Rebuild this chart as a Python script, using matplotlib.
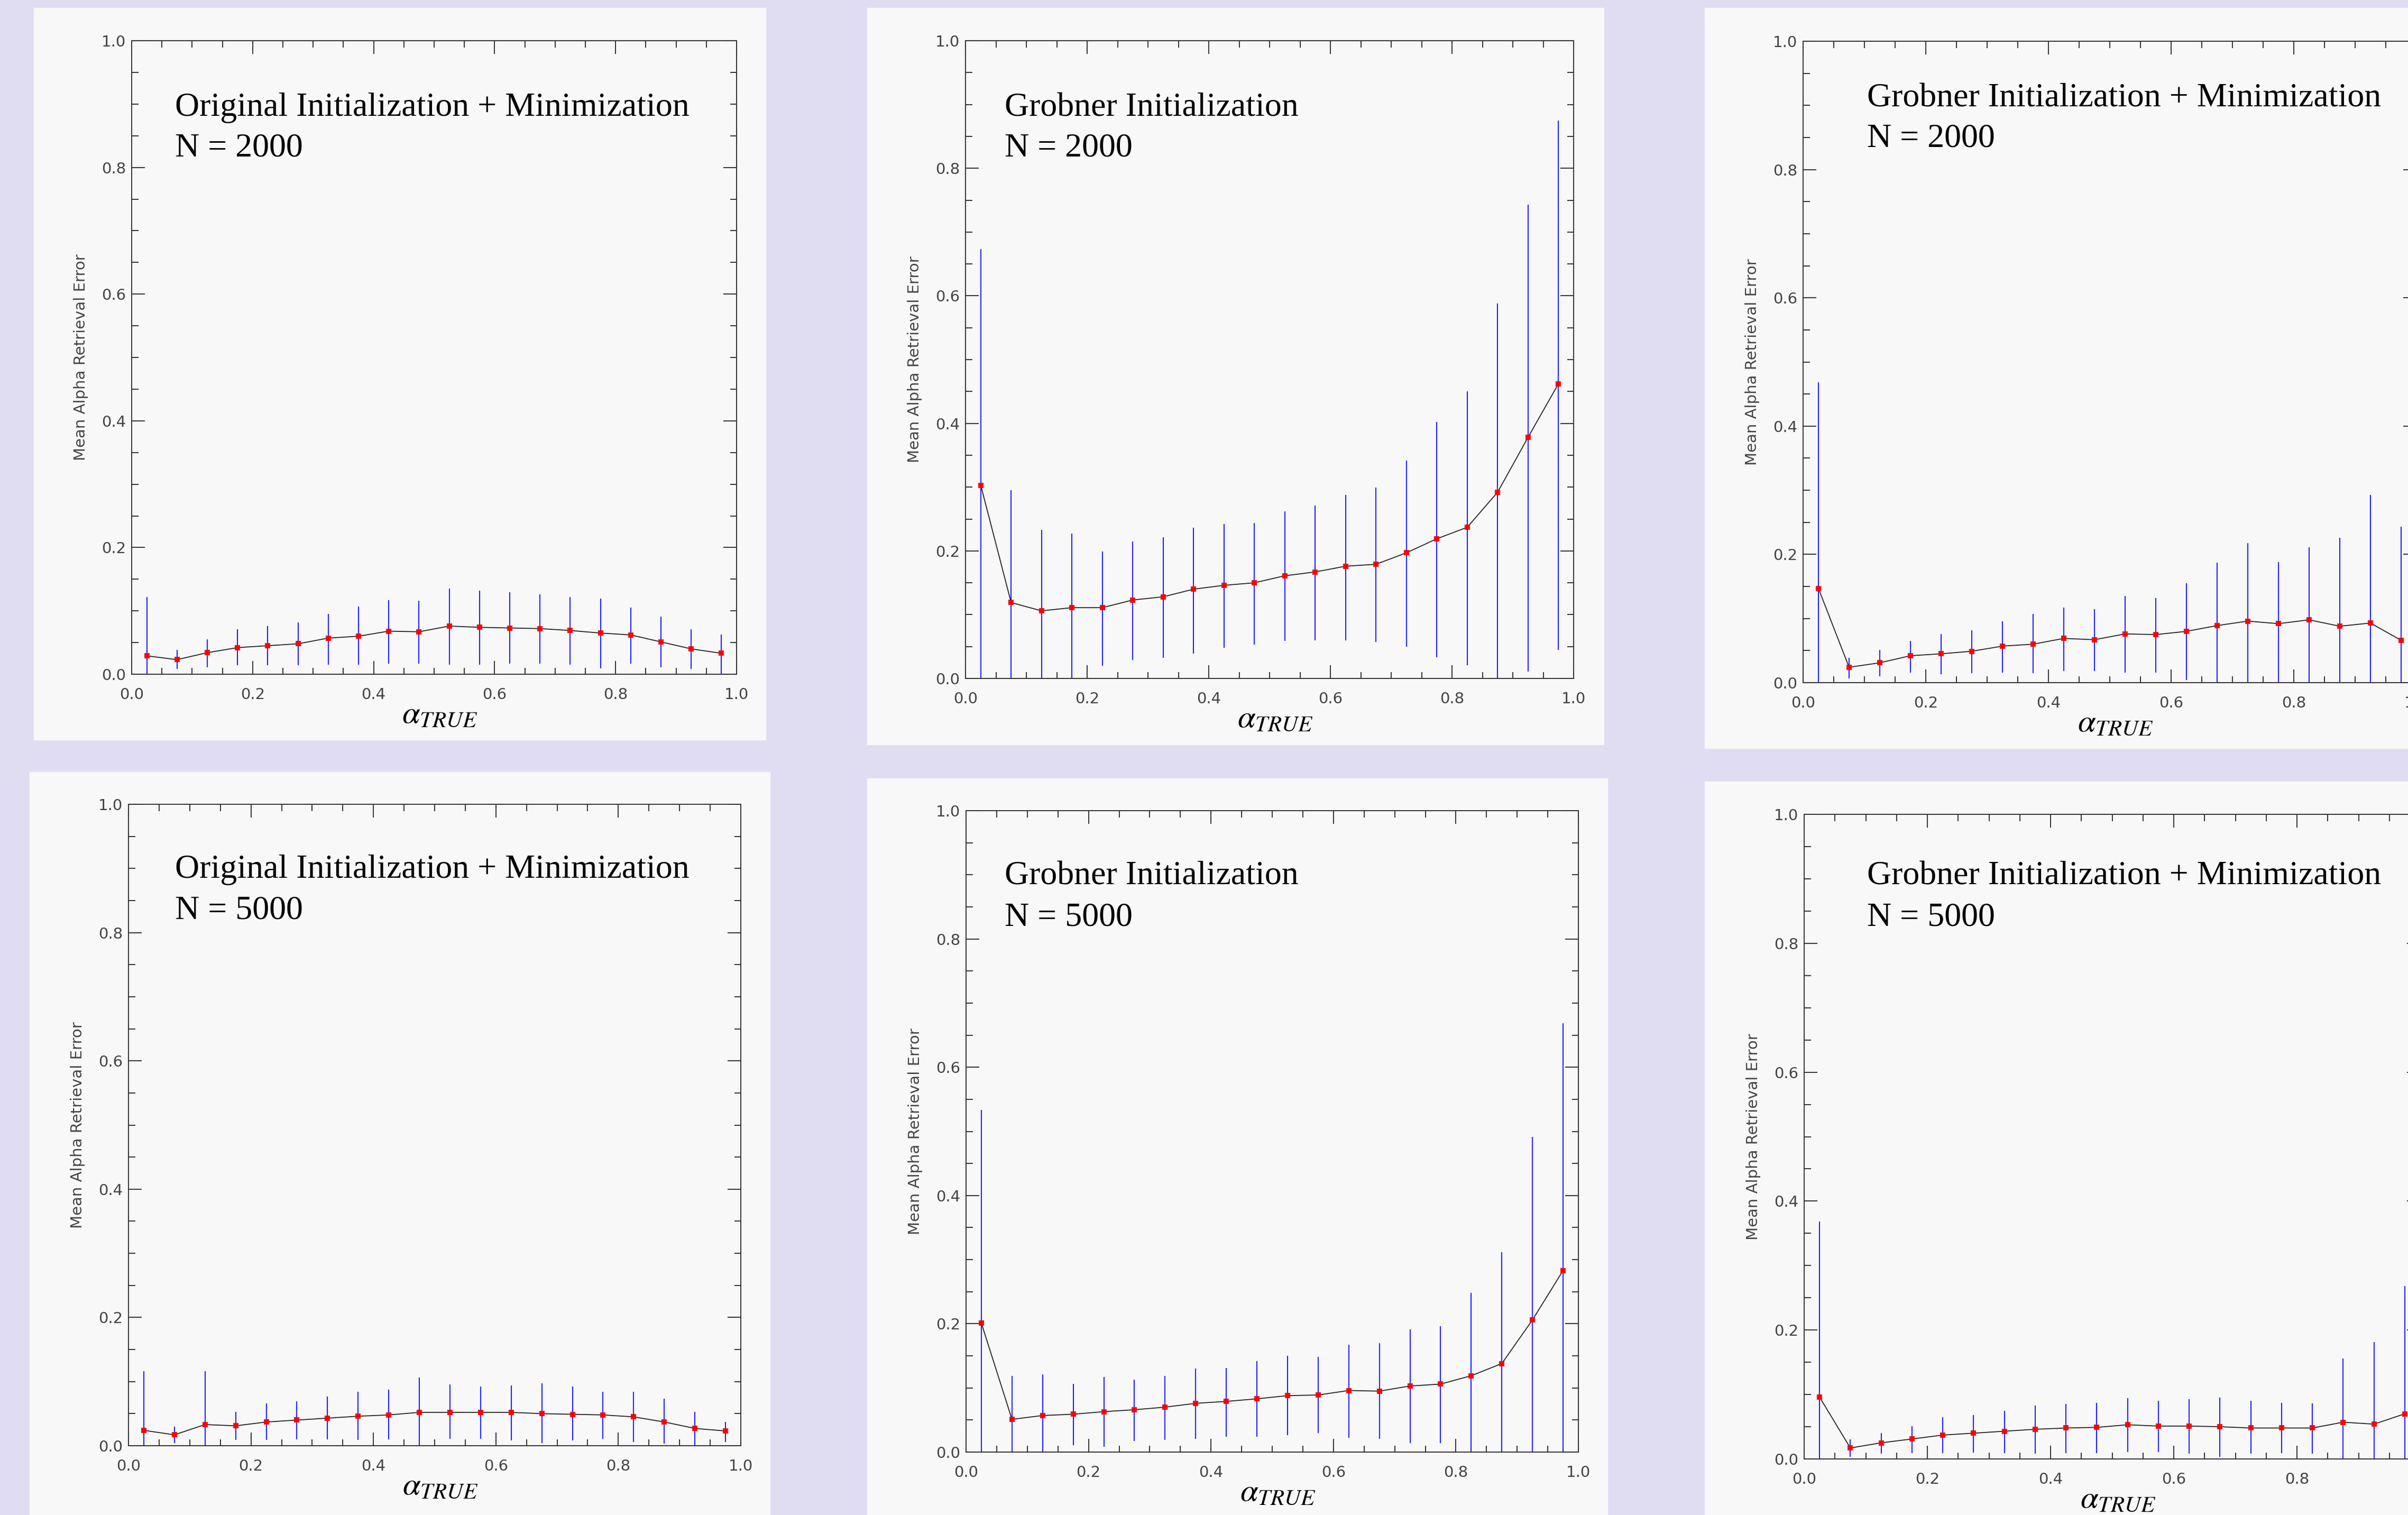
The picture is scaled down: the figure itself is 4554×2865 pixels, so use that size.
#!/usr/bin/env python3

'''Six panels of mean alpha retrieval error against alpha_true, for the
original and Grobner initialisations at N = 2000 and N = 5000.'''

import matplotlib as mpl
mpl.use('Agg')
import matplotlib.pyplot as plt
from matplotlib.patches import Rectangle
from matplotlib.ticker import MultipleLocator, FormatStrFormatter

W, H, DPI = 4554, 2865, 100

# bin centres of alpha_true
alpha_true = [0.025, 0.075, 0.125, 0.175, 0.225, 0.275, 0.325, 0.375, 0.425,
              0.475, 0.525, 0.575, 0.625, 0.675, 0.725, 0.775, 0.825, 0.875,
              0.925, 0.975]

# Original Initialization + Minimization, N = 2000
orig2k_mean = [0.029, 0.023, 0.034, 0.042, 0.045, 0.048, 0.057, 0.060, 0.068,
               0.067, 0.076, 0.074, 0.073, 0.072, 0.069, 0.065, 0.062, 0.051,
               0.040, 0.033]
orig2k_hi = [0.122, 0.038, 0.055, 0.071, 0.076, 0.082, 0.095, 0.107, 0.117,
             0.116, 0.135, 0.132, 0.129, 0.126, 0.122, 0.119, 0.105, 0.091,
             0.071, 0.063]
orig2k_lo = [0.0, 0.008, 0.011, 0.014, 0.014, 0.014, 0.015, 0.015, 0.017,
             0.017, 0.015, 0.015, 0.017, 0.017, 0.015, 0.009, 0.017, 0.011,
             0.008, 0.0]

# Grobner Initialization, N = 2000
grob2k_mean = [0.303, 0.119, 0.106, 0.111, 0.111, 0.123, 0.128, 0.140, 0.146,
               0.150, 0.161, 0.167, 0.176, 0.179, 0.197, 0.219, 0.237, 0.292,
               0.378, 0.462]
grob2k_hi = [0.673, 0.295, 0.233, 0.227, 0.199, 0.215, 0.221, 0.236, 0.242,
             0.244, 0.262, 0.271, 0.288, 0.299, 0.342, 0.402, 0.450, 0.588,
             0.743, 0.875]
grob2k_lo = [0.0, 0.0, 0.0, 0.0, 0.020, 0.029, 0.032, 0.039, 0.048, 0.053,
             0.059, 0.060, 0.060, 0.057, 0.050, 0.033, 0.021, 0.0, 0.011,
             0.045]

# Grobner Initialization + Minimization, N = 2000
gmin2k_mean = [0.147, 0.024, 0.031, 0.042, 0.045, 0.049, 0.057, 0.060, 0.069,
               0.067, 0.076, 0.075, 0.080, 0.089, 0.096, 0.092, 0.098, 0.088,
               0.093, 0.066]
gmin2k_hi = [0.468, 0.039, 0.051, 0.065, 0.076, 0.082, 0.096, 0.107, 0.117,
             0.115, 0.135, 0.132, 0.155, 0.187, 0.218, 0.188, 0.211, 0.226,
             0.293, 0.243]
gmin2k_lo = [0.0, 0.007, 0.010, 0.016, 0.013, 0.015, 0.016, 0.015, 0.018,
             0.018, 0.016, 0.016, 0.004, 0.0, 0.0, 0.0, 0.0, 0.0, 0.0, 0.0]

# Original Initialization + Minimization, N = 5000
orig5k_mean = [0.024, 0.017, 0.033, 0.031, 0.037, 0.040, 0.043, 0.046, 0.048,
               0.052, 0.052, 0.052, 0.052, 0.050, 0.049, 0.048, 0.045, 0.037,
               0.027, 0.023]
orig5k_hi = [0.116, 0.030, 0.116, 0.053, 0.066, 0.069, 0.077, 0.084, 0.087,
             0.106, 0.096, 0.092, 0.094, 0.097, 0.092, 0.084, 0.084, 0.073,
             0.053, 0.037]
orig5k_lo = [0.0, 0.004, 0.0, 0.009, 0.009, 0.010, 0.010, 0.009, 0.010, 0.0,
             0.011, 0.011, 0.008, 0.004, 0.008, 0.011, 0.006, 0.003, 0.0,
             0.006]

# Grobner Initialization, N = 5000
grob5k_mean = [0.201, 0.051, 0.057, 0.059, 0.063, 0.066, 0.070, 0.076, 0.079,
               0.083, 0.088, 0.089, 0.096, 0.095, 0.103, 0.106, 0.119, 0.138,
               0.206, 0.283]
grob5k_hi = [0.533, 0.119, 0.121, 0.106, 0.117, 0.113, 0.119, 0.130, 0.131,
             0.142, 0.150, 0.148, 0.167, 0.170, 0.191, 0.196, 0.248, 0.312,
             0.491, 0.669]
grob5k_lo = [0.0, 0.0, 0.0, 0.011, 0.008, 0.017, 0.019, 0.021, 0.024, 0.024,
             0.026, 0.030, 0.022, 0.021, 0.014, 0.014, 0.0, 0.0, 0.0, 0.0]

# Grobner Initialization + Minimization, N = 5000
gmin5k_mean = [0.096, 0.017, 0.025, 0.031, 0.037, 0.040, 0.043, 0.046, 0.048,
               0.049, 0.053, 0.051, 0.051, 0.050, 0.048, 0.048, 0.048, 0.057,
               0.054, 0.070]
gmin5k_hi = [0.368, 0.030, 0.040, 0.051, 0.065, 0.068, 0.075, 0.083, 0.085,
             0.087, 0.094, 0.090, 0.093, 0.095, 0.090, 0.087, 0.086, 0.156,
             0.181, 0.268]
gmin5k_lo = [0.0, 0.003, 0.008, 0.009, 0.009, 0.010, 0.009, 0.008, 0.009,
             0.009, 0.011, 0.011, 0.008, 0.003, 0.008, 0.009, 0.008, 0.0, 0.0,
             0.0]

titles = ['Original Initialization + Minimization', 'Grobner Initialization',
          'Grobner Initialization + Minimization']
sizes = ['N = 2000', 'N = 5000']

BG = '#e0ddf2'
PANEL = '#f8f8f8'
INK = '#333333'


def fx(px):
    return px / W


def fy(py):
    return 1 - py / H


def add_panel(fig, card, box, text_xy, title, size, mean, hi, lo):
    '''card/box are (left, top, right, bottom) in pixels.'''

    l, t, r, b = card
    fig.patches.append(Rectangle((fx(l), fy(b)), fx(r - l), (b - t) / H,
                                 transform=fig.transFigure, color=PANEL,
                                 zorder=-5))

    l, t, r, b = box
    ax = fig.add_axes([fx(l), fy(b), fx(r - l), (b - t) / H])
    ax.set_zorder(1)
    ax.set_facecolor(PANEL)
    ax.set_xlim(0, 1)
    ax.set_ylim(0, 1)

    ax.vlines(alpha_true, lo, hi, colors='#1f1fff', lw=1.5, zorder=2)
    ax.plot(alpha_true, mean, color='#222222', lw=1.3, zorder=3)
    ax.plot(alpha_true, mean, ls='None', marker='s', ms=7, mew=0,
            color='#ff0000', zorder=4)

    for axis in (ax.xaxis, ax.yaxis):
        axis.set_major_locator(MultipleLocator(0.2))
        axis.set_minor_locator(MultipleLocator(0.05))
        axis.set_major_formatter(FormatStrFormatter('%.1f'))
    ax.tick_params(which='both', direction='in', top=True, right=True,
                   color=INK, width=1.4, labelcolor='#444444', labelsize=21)
    ax.tick_params(which='major', length=18)
    ax.tick_params(which='minor', length=9)
    ax.tick_params(axis='x', pad=18)
    ax.tick_params(axis='y', pad=8)
    for side in ax.spines.values():
        side.set_color(INK)
        side.set_linewidth(1.4)

    fig.text(fx(l - 96), fy((t + b) / 2), 'Mean Alpha Retrieval Error',
             rotation=90, ha='center', va='center', color='#444444',
             fontsize=21, zorder=5)
    fig.text(fx((l + r) / 2 + 11), fy(b + 92), r'$\alpha_{TRUE}$',
             ha='center', va='baseline', color='black', fontsize=44,
             zorder=5)

    x, y = text_xy
    fig.text(fx(x), fy(y), title, family='Liberation Serif', fontsize=46,
             ha='left', va='baseline', color='black', zorder=5)
    fig.text(fx(x), fy(y + 77), size, family='Liberation Serif', fontsize=46,
             ha='left', va='baseline', color='black', zorder=5)
    return ax


def main():
    mpl.rcParams['mathtext.fontset'] = 'stix'
    mpl.rcParams['font.family'] = 'DejaVu Sans'

    fig = plt.figure(figsize=(W / DPI, H / DPI), dpi=DPI, facecolor=BG)

    cards = [(64, 15, 1448, 1399), (1640, 15, 3033, 1408),
             (3224, 15, 4600, 1415), (56, 1460, 1456, 2900),
             (1640, 1472, 3040, 2900), (3224, 1478, 4600, 2900)]
    boxes = [(249, 77, 1393, 1275), (1826, 77, 2976, 1283),
             (3410, 78, 4570, 1291), (243, 1521, 1401, 2734),
             (1827, 1533, 2985, 2746), (3412, 1540, 4577, 2759)]
    text_pos = [(331, 219), (1900, 219), (3531, 201),
                (331, 1660), (1900, 1673), (3531, 1673)]
    series = [(orig2k_mean, orig2k_hi, orig2k_lo),
              (grob2k_mean, grob2k_hi, grob2k_lo),
              (gmin2k_mean, gmin2k_hi, gmin2k_lo),
              (orig5k_mean, orig5k_hi, orig5k_lo),
              (grob5k_mean, grob5k_hi, grob5k_lo),
              (gmin5k_mean, gmin5k_hi, gmin5k_lo)]

    for i in range(6):
        add_panel(fig, cards[i], boxes[i], text_pos[i], titles[i % 3],
                  sizes[i // 3], *series[i])

    fig.savefig('out.png', dpi=DPI, facecolor=BG)
    plt.close(fig)


if __name__ == '__main__':
    main()
